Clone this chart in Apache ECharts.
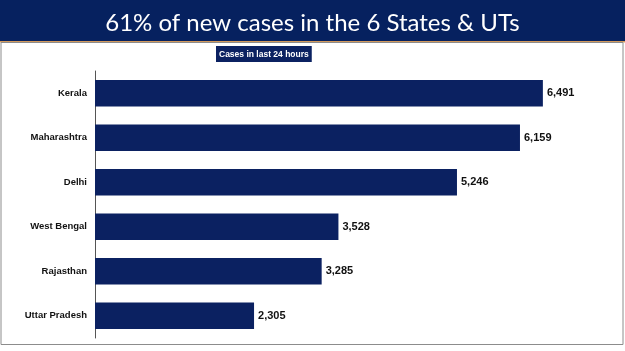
<!DOCTYPE html>
<html lang="en">
<head>
  <meta charset="UTF-8">
  <title>Cases in last 24 hours</title>
  <style>
    html, body { margin: 0; padding: 0; background: #fff; }
  </style>
</head>
<body>
  <div id="main" style="width:625px;height:351px"></div>
  <script src="https://cdn.jsdelivr.net/npm/echarts@6/dist/echarts.min.js"></script>
  <script>
    // data
    var states = ['Kerala', 'Maharashtra', 'Delhi', 'West Bengal', 'Rajasthan', 'Uttar Pradesh'];
    var cases = [6491, 6159, 5246, 3528, 3285, 2305];

    var navy = '#0b2161';
    var sans = '"Liberation Sans", Arial, sans-serif';

    var myChart = echarts.init(document.getElementById('main'));

    var option = {
      backgroundColor: '#fff',
      animation: false,
      graphic: [
        // title band
        { type: 'rect', shape: { x: 0, y: 0, width: 625, height: 41 }, style: { fill: '#06215f' }, z: -1 },
        // thin orange rule under the band
        { type: 'rect', shape: { x: 0, y: 41, width: 625, height: 1.5 }, style: { fill: '#d49a5c' }, z: -1 },
        // frame round the chart
        { type: 'rect', shape: { x: 1, y: 42.5, width: 622, height: 302 }, style: { fill: 'none', stroke: '#8c8c8c', lineWidth: 1 }, z: -1 }
      ],
      title: [
        {
          text: '61% of new cases in the 6 States & UTs',
          left: 'center',
          top: 6,
          textStyle: { color: '#fff', fontSize: 24, fontWeight: 'normal', fontFamily: 'Lato, "Open Sans", sans-serif' }
        },
        {
          text: 'Cases in last 24 hours',
          left: 216,
          top: 46,
          padding: [4, 3, 3, 3],
          backgroundColor: navy,
          textStyle: { color: '#fff', fontSize: 8.5, fontWeight: 'bold', fontFamily: sans }
        }
      ],
      grid: { left: 95, top: 71, bottom: 13, right: 47 },
      xAxis: {
        type: 'value',
        min: 0,
        max: 7000,
        show: false
      },
      yAxis: {
        type: 'category',
        data: states,
        inverse: true,
        axisLine: { lineStyle: { color: '#555', width: 1 } },
        axisTick: { length: 3, lineStyle: { color: '#555' } },
        axisLabel: { color: '#111', fontSize: 9.5, fontWeight: 'bold', fontFamily: sans, margin: 8 }
      },
      series: [
        {
          type: 'bar',
          data: cases,
          barWidth: '60%',
          itemStyle: { color: navy },
          label: {
            show: true,
            position: 'right',
            distance: 4,
            color: '#111',
            fontSize: 11,
            fontWeight: 'bold',
            fontFamily: sans,
            formatter: function (p) { return p.value.toLocaleString('en-US'); }
          }
        }
      ]
    };

    myChart.setOption(option);
  </script>
</body>
</html>
